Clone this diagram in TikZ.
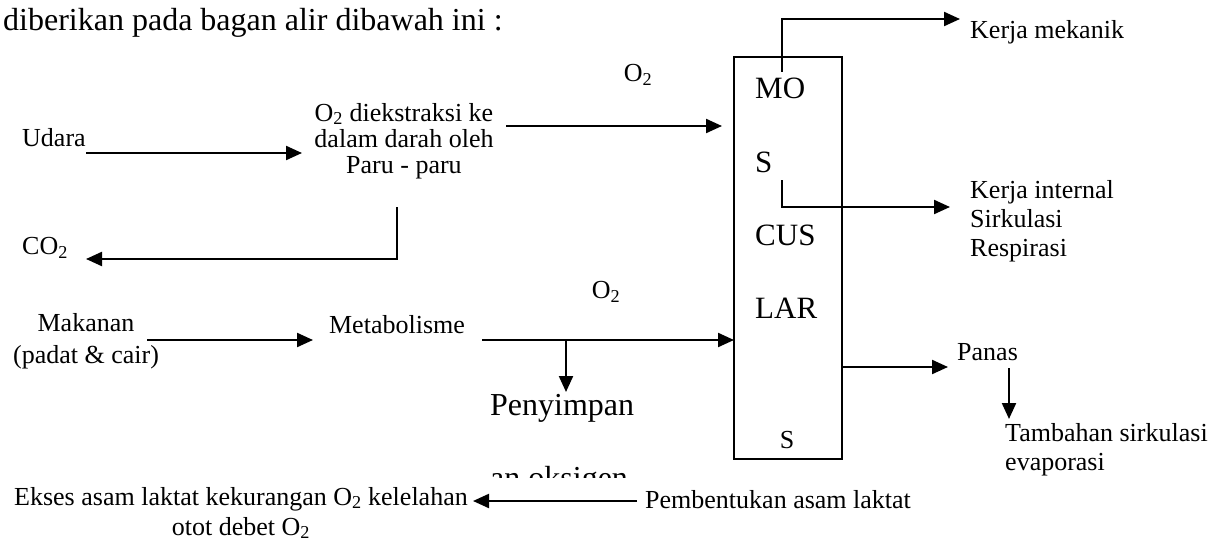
\documentclass[tikz,border=0pt]{standalone}
\usepackage{fontspec}
\setmainfont{Liberation Serif}
\usetikzlibrary{arrows.meta}
\tikzset{
  txt/.style={font=\fontsize{26}{29}\selectfont, inner sep=0pt},
  big/.style={font=\fontsize{32}{36}\selectfont, inner sep=0pt},
  boxtxt/.style={font=\fontsize{31}{34}\selectfont, inner sep=0pt, anchor=west},
  arr/.style={line width=2.2pt, -{Triangle[length=16pt,width=14pt]}},
  boxline/.style={line width=2pt}
}
\begin{document}
\begin{tikzpicture}[x=1pt,y=-1pt]
\useasboundingbox (0,0) rectangle (1208,543);
% title
\node[big, anchor=west] (title) at (3,23) {diberikan pada bagan alir dibawah ini :};
% left column
\node[txt, anchor=west] (udara) at (22,138) {Udara};
\node[txt, align=center, font=\fontsize{26}{26}\selectfont] (paru) at (404,141) {O\textsubscript{2} diekstraksi ke\\dalam darah oleh\\Paru - paru};
\node[txt] (o2a) at (638,75) {O\textsubscript{2}};
\node[txt, anchor=west] (co2) at (22,248) {CO\textsubscript{2}};
\node[txt, align=center, font=\fontsize{26}{32}\selectfont] (makanan) at (86,341) {Makanan\\(padat \& cair)};
\node[txt] (metab) at (397,325) {Metabolisme};
\node[txt] (o2b) at (606,292) {O\textsubscript{2}};
\node[big, anchor=west] (penyimpan) at (490,408) {Penyimpan};
\begin{scope}
  \clip (480,440) rectangle (650,477);
  \node[big, anchor=base west] (oksigen) at (490,488) {an oksigen};
\end{scope}
% muscle box
\node[draw, boxline, minimum width=108pt, minimum height=402pt, inner sep=0pt] (box) at (788,258) {};
\node[boxtxt] (mo) at (755,88) {MO};
\node[boxtxt] (s1) at (755,162) {S};
\node[boxtxt] (cus) at (755,235) {CUS};
\node[boxtxt] (lar) at (755,308) {LAR};
\node[txt] (s2) at (787,440) {S};
% right outputs
\node[txt, anchor=west] (mekanik) at (970,32) {Kerja mekanik};
\node[txt, anchor=west, align=left] (internal) at (970,221) {Kerja internal\\Sirkulasi\\Respirasi};
\node[txt, anchor=west] (panas) at (957,352) {Panas};
\node[txt, anchor=west, align=left] (tambahan) at (1005,450) {Tambahan sirkulasi\\evaporasi};
% bottom
\node[txt, anchor=west] (pembentukan) at (645,500) {Pembentukan asam laktat};
\node[txt, align=center, font=\fontsize{26}{30}\selectfont] (ekses) at (241,513) {Ekses asam laktat kekurangan O\textsubscript{2} kelelahan\\otot debet O\textsubscript{2}};
% coordinates for connector ends
\coordinate (u1) at (86,153);
\coordinate (u2) at (302,153);
\coordinate (p1) at (506,126);
\coordinate (p2) at (722,126);
\coordinate (c1) at (397,207);
\coordinate (c2) at (397,259);
\coordinate (c3) at (86,259);
\coordinate (m1) at (147,340);
\coordinate (m2) at (313,340);
\coordinate (t1) at (482,340);
\coordinate (t2) at (734,340);
\coordinate (br) at (566,340);
\coordinate (br2) at (566,392);
\coordinate (k1) at (782,72);
\coordinate (k2) at (782,19);
\coordinate (k3) at (960,19);
\coordinate (i1) at (782,180);
\coordinate (i2) at (782,207);
\coordinate (i3) at (950,207);
\coordinate (h1) at (842,367);
\coordinate (h2) at (948,367);
\coordinate (d1) at (1009,368);
\coordinate (d2) at (1009,419);
\coordinate (b1) at (637,501);
\coordinate (b2) at (473,501);
% connectors
\draw[arr] (u1) -- (u2);
\draw[arr] (p1) -- (p2);
\draw[arr] (c1) -- (c2) -- (c3);
\draw[arr] (m1) -- (m2);
\draw[arr] (t1) -- (t2);
\draw[arr] (br) -- (br2);
\draw[arr] (k1) -- (k2) -- (k3);
\draw[arr] (i1) -- (i2) -- (i3);
\draw[arr] (h1) -- (h2);
\draw[arr] (d1) -- (d2);
\draw[arr] (b1) -- (b2);
\end{tikzpicture}
\end{document}
